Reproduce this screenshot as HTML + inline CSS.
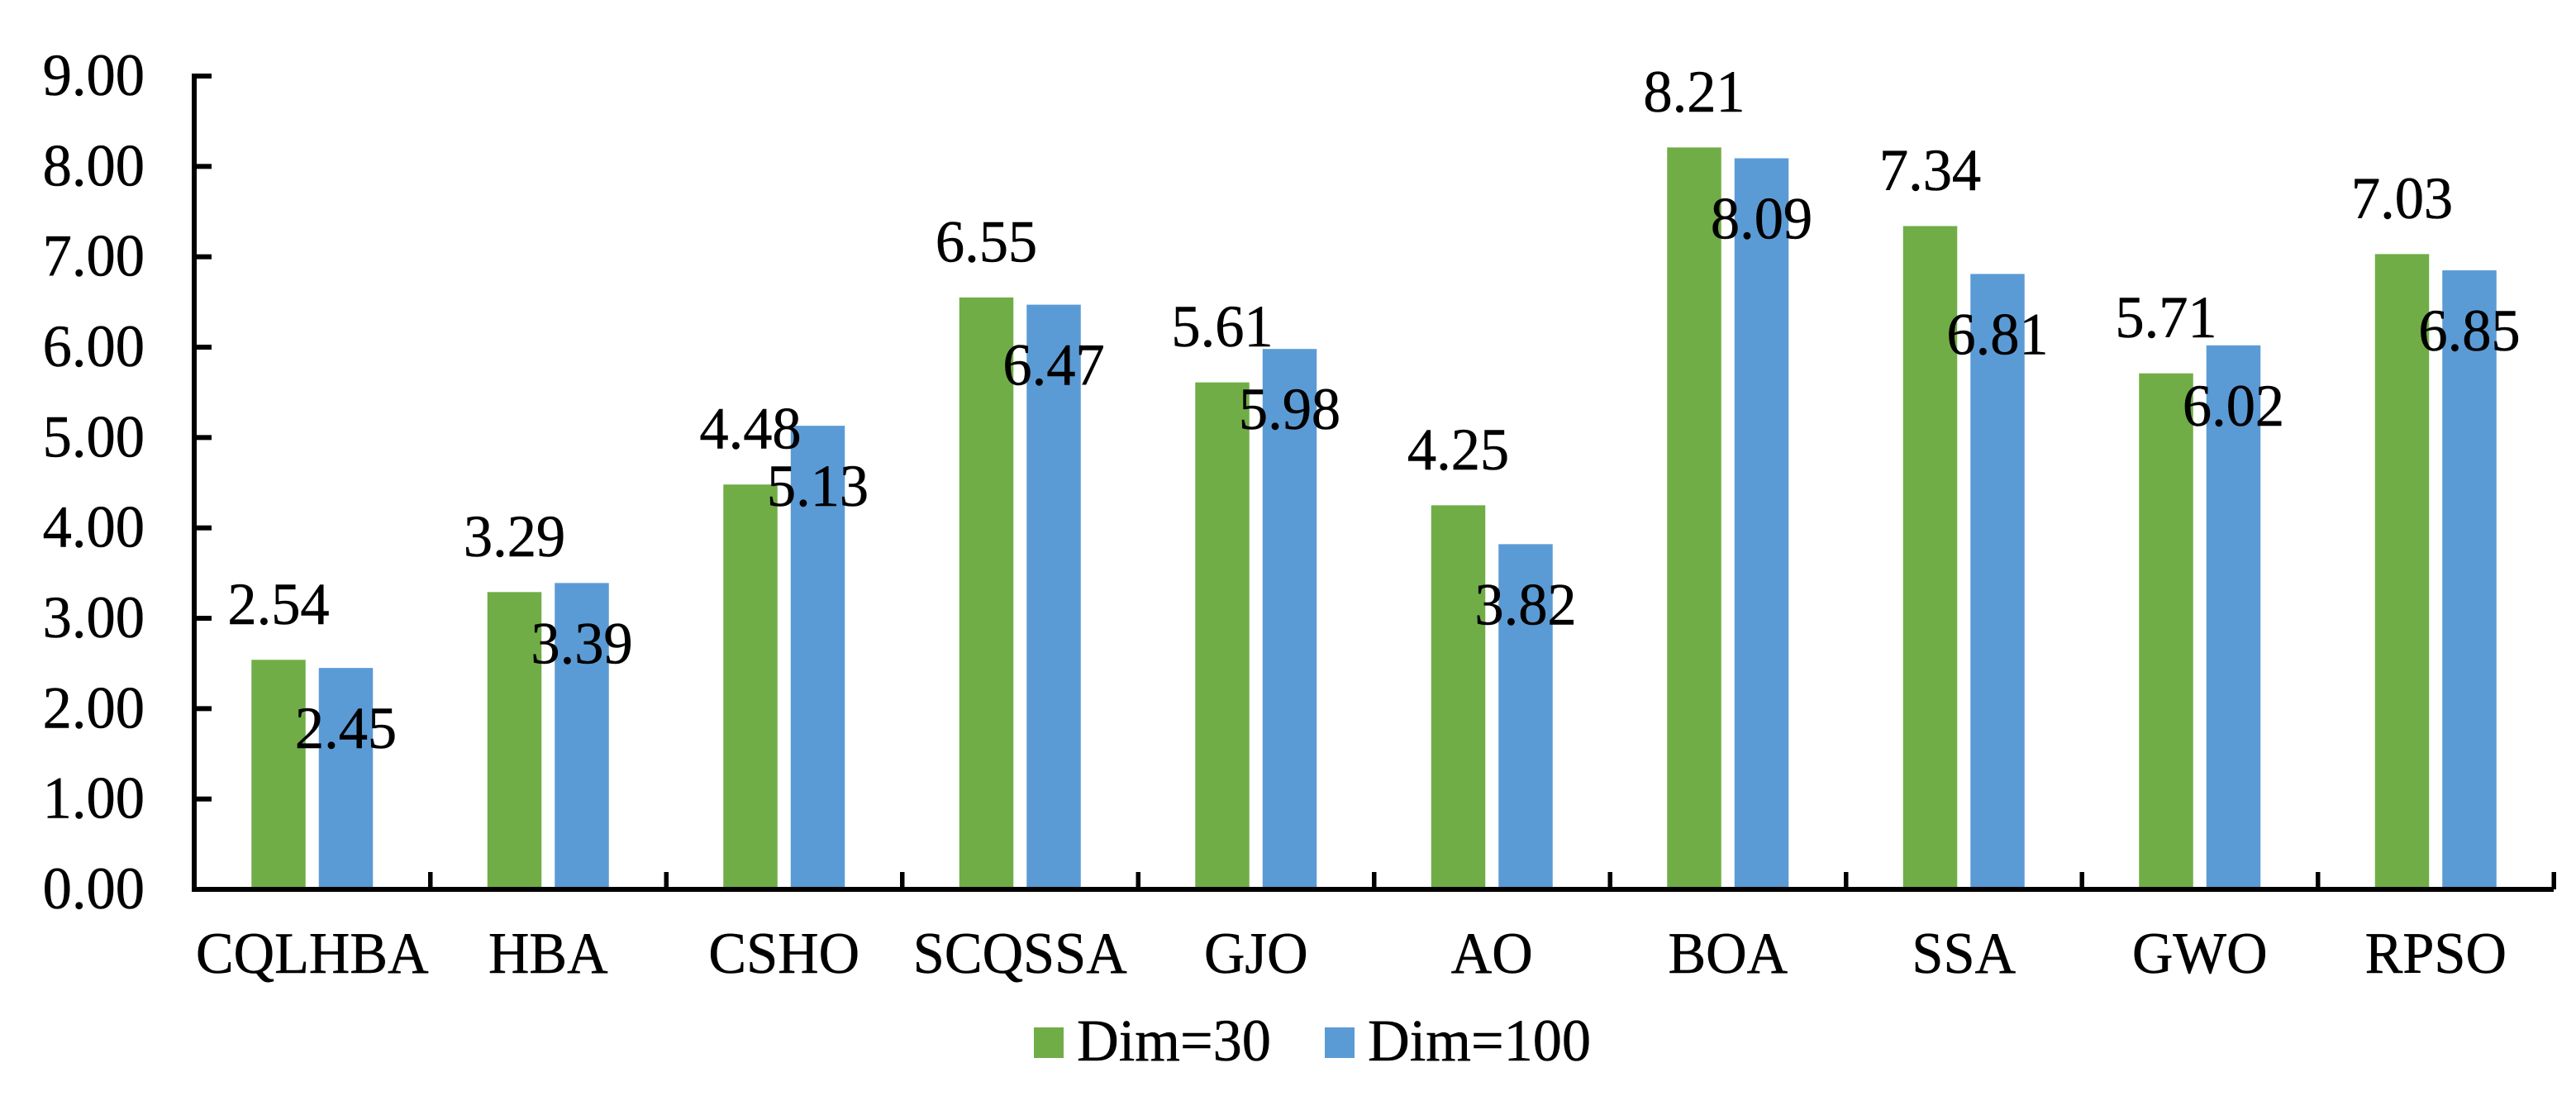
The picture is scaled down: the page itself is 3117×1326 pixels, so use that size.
<!DOCTYPE html>
<html lang="en">
<head>
<meta charset="utf-8">
<title>Dim=30 vs Dim=100 bar chart</title>
<style>
html,body{margin:0;padding:0;background:#fff;width:3117px;height:1326px;overflow:hidden}
svg{display:block}
text{font-family:"Liberation Serif","Times New Roman",serif;font-size:68.5px;fill:#000;stroke:#000;stroke-width:0.5px}
#legend text{font-size:70.3px}
text.num{font-size:70.5px}
</style>
</head>
<body>
<svg id="chart" xmlns="http://www.w3.org/2000/svg" width="3117" height="1326" viewBox="0 0 3117 1326">
<rect x="0" y="0" width="3117" height="1326" fill="#fff"/>
<g id="bars"></g>
<g id="axes"></g>
<g id="labels"></g>
<g id="legend"></g>
</svg>
<script>
const categories = ["CQLHBA","HBA","CSHO","SCQSSA","GJO","AO","BOA","SSA","GWO","RPSO"];
const dim30 = [2.54,3.29,4.48,6.55,5.61,4.25,8.21,7.34,5.71,7.03];
const dim100 = [2.45,3.39,5.13,6.47,5.98,3.82,8.09,6.81,6.02,6.85];
const yTicks = [0,1,2,3,4,5,6,7,8,9];
const seriesNames = ["Dim=30","Dim=100"];

const NS = "http://www.w3.org/2000/svg";
const plot = {left:235, right:3090, top:92, bottom:1076, yMax:9};
const colors = ["#70AD47","#5B9BD5"];
const barW = 65.5, barGap = 16;
const yScale = v => plot.bottom - (v / plot.yMax) * (plot.bottom - plot.top);
const bandW = (plot.right - plot.left) / categories.length;
const xBand = i => plot.left + bandW * i;
const xCenter = i => xBand(i) + bandW / 2;
const barX = (i, s) => xCenter(i) + (s === 0 ? -(barW + barGap / 2) : barGap / 2);

function mk(tag, attrs, parent){
  const el = document.createElementNS(NS, tag);
  for (const k in attrs) el.setAttribute(k, attrs[k]);
  parent.appendChild(el);
  return el;
}
function label(str, x, y, anchor, parent, stretch, cls){
  const el = mk("text", {"text-anchor":anchor, transform:`translate(${x} ${y}) scale(1 ${stretch})`}, parent);
  if (cls) el.setAttribute("class", cls);
  el.textContent = str;
  return el;
}
const gBars = document.getElementById("bars");
const gAxes = document.getElementById("axes");
const gLabels = document.getElementById("labels");
const gLegend = document.getElementById("legend");

[dim30, dim100].forEach((series, s) => {
  series.forEach((v, i) => {
    const r = mk("rect", {x:barX(i, s), y:yScale(v), width:barW, height:plot.bottom - yScale(v), fill:colors[s]}, gBars);
    
    
    const cx = barX(i, s) + barW / 2;
    const ly = s === 0 ? yScale(v) - 43.5 : yScale(v) + 97;
    const t = label(v.toFixed(2), cx, ly, "middle", gLabels, 1.02, "num");
    
    
  });
});

const yAxis = mk("rect", {x:plot.left - 3, y:plot.top - 3, width:6, height:plot.bottom - plot.top + 6, fill:"#000"}, gAxes);


const xAxis = mk("rect", {x:plot.left - 3, y:plot.bottom - 3, width:plot.right - plot.left + 3, height:6, fill:"#000"}, gAxes);



yTicks.forEach(v => {
  const tick = mk("rect", {x:plot.left, y:yScale(v) - 3, width:21, height:6, fill:"#000"}, gAxes);
  
  
  const t = label(v.toFixed(2), 175, yScale(v) + 23, "end", gAxes, 1.02, "num");
  
  
});

categories.forEach((c, i) => {
  const tick = mk("rect", {x:xBand(i + 1) - 2.5, y:plot.bottom - 21, width:5.5, height:21, fill:"#000"}, gAxes);
  
  
  const t = label(c, xCenter(i), 1177, "middle", gAxes, 1.04);
  
  
});

seriesNames.forEach((n, s) => {
  const offset = s * 352;
  const sw = mk("rect", {x:1251 + offset, y:1243, width:36, height:37, fill:colors[s]}, gLegend);
  
  
  const t = label(n, 1303 + offset, 1283, "start", gLegend, 1.02);
  
  
});
</script>
</body>
</html>
